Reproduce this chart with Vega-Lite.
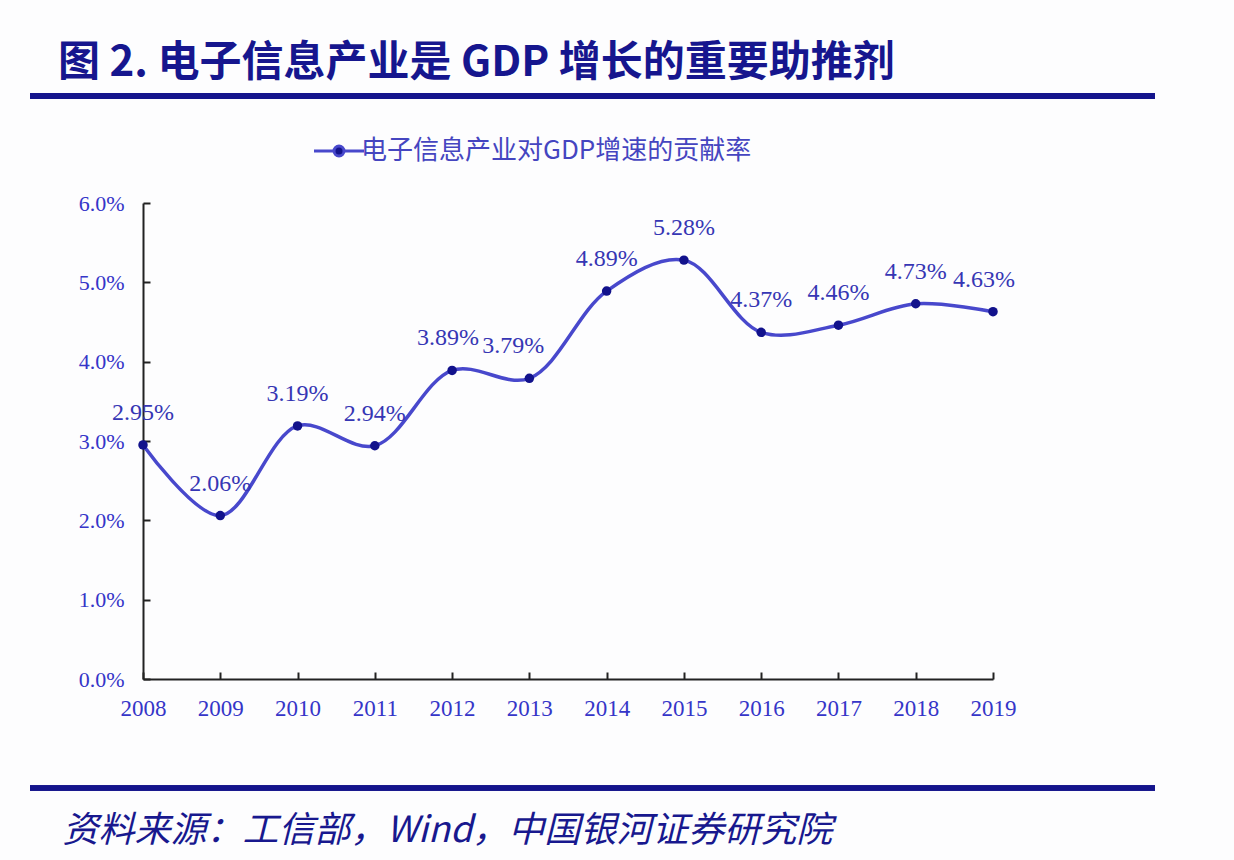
{
  "$schema": "https://vega.github.io/schema/vega-lite/v6.json",
  "width": 850,
  "height": 476,
  "autosize": "none",
  "padding": {"left": 143, "top": 203, "right": 241, "bottom": 181},
  "background": "#fdfdfe",
  "config": {"view": {"stroke": null}},
  "title": {
    "text": "图 2. 电子信息产业是 GDP 增长的重要助推剂",
    "anchor": "start",
    "frame": "group",
    "dx": -85,
    "font": "Noto Sans CJK SC",
    "fontWeight": "bold",
    "fontSize": 42,
    "color": "#16168e",
    "baseline": "middle",
    "offset": 0,
    "dy": 11
  },
  "data": {
    "values": [
      {"year": "2008", "rate": 0.0295, "series": "电子信息产业对GDP增速的贡献率"},
      {"year": "2009", "rate": 0.0206, "series": "电子信息产业对GDP增速的贡献率"},
      {"year": "2010", "rate": 0.0319, "series": "电子信息产业对GDP增速的贡献率"},
      {"year": "2011", "rate": 0.0294, "series": "电子信息产业对GDP增速的贡献率"},
      {"year": "2012", "rate": 0.0389, "series": "电子信息产业对GDP增速的贡献率"},
      {"year": "2013", "rate": 0.0379, "series": "电子信息产业对GDP增速的贡献率"},
      {"year": "2014", "rate": 0.0489, "series": "电子信息产业对GDP增速的贡献率"},
      {"year": "2015", "rate": 0.0528, "series": "电子信息产业对GDP增速的贡献率"},
      {"year": "2016", "rate": 0.0437, "series": "电子信息产业对GDP增速的贡献率"},
      {"year": "2017", "rate": 0.0446, "series": "电子信息产业对GDP增速的贡献率"},
      {"year": "2018", "rate": 0.0473, "series": "电子信息产业对GDP增速的贡献率"},
      {"year": "2019", "rate": 0.0463, "series": "电子信息产业对GDP增速的贡献率"}
    ]
  },
  "encoding": {
    "x": {
      "field": "year",
      "type": "ordinal",
      "scale": {"type": "point", "padding": 0},
      "axis": {
        "title": "资料来源：工信部，Wind，中国银河证券研究院",
        "titleFont": "Noto Sans CJK SC",
        "titleFontStyle": "italic",
        "titleFontWeight": "normal",
        "titleFontSize": 36,
        "titleColor": "#18188e",
        "titleAnchor": "start",
        "titleAlign": "left",
        "titleBaseline": "middle",
        "titleX": -81,
        "titleY": 151,
        "labelAngle": 0,
        "labelFont": "Liberation Serif",
        "labelFontSize": 23,
        "labelColor": "#3535c8",
        "labelPadding": 25,
        "labelBaseline": "top",
        "domainColor": "#222222",
        "domainWidth": 2,
        "tickColor": "#222222",
        "tickWidth": 2,
        "tickSize": -7,
        "grid": false
      }
    },
    "y": {
      "field": "rate",
      "type": "quantitative",
      "scale": {"domain": [0, 0.06], "nice": false},
      "axis": {
        "title": null,
        "values": [0, 0.01, 0.02, 0.03, 0.04, 0.05, 0.06],
        "format": ".1%",
        "labelFont": "Liberation Serif",
        "labelFontSize": 22,
        "labelColor": "#3535c8",
        "labelPadding": 26,
        "domainColor": "#222222",
        "domainWidth": 2,
        "tickColor": "#222222",
        "tickWidth": 2,
        "tickSize": -7,
        "grid": false
      }
    }
  },
  "layer": [
    {
      "mark": {"type": "rule", "color": "#14148c", "strokeWidth": 5},
      "encoding": {
        "x": {"value": -113},
        "x2": {"value": 1012},
        "y": {"value": -107}
      }
    },
    {
      "mark": {"type": "rule", "color": "#14148c", "strokeWidth": 4.5},
      "encoding": {
        "x": {"value": -113},
        "x2": {"value": 1012},
        "y": {"value": 585}
      }
    },
    {
      "mark": {"type": "line", "interpolate": "catmull-rom", "strokeWidth": 3.5},
      "encoding": {
        "color": {
          "field": "series",
          "type": "nominal",
          "scale": {"range": ["#4848cc"]},
          "legend": {
            "title": null,
            "orient": "none",
            "legendX": 182,
            "legendY": -66,
            "symbolType": "M-2,0L-0.4,0M0.4,0L2,0M0.4,0A0.4,0.4 0 1,1 -0.4,0A0.4,0.4 0 1,1 0.4,0Z",
            "symbolSize": 625,
            "symbolStrokeWidth": 3,
            "symbolStrokeColor": "#4848cc",
            "symbolFillColor": "#14148c",
            "labelFont": "Noto Sans CJK SC",
            "labelFontSize": 26,
            "labelColor": "#4545c0",
            "labelOffset": 8,
            "labelLimit": 0
          }
        }
      }
    },
    {
      "mark": {"type": "point", "filled": true, "size": 90, "color": "#12128c", "opacity": 1}
    },
    {
      "transform": [{"filter": "datum.year != '2013' && datum.year != '2019' && datum.year != '2012'"}],
      "mark": {"type": "text", "dy": -32, "font": "Liberation Serif", "fontSize": 24, "color": "#3636b4"},
      "encoding": {"text": {"field": "rate", "type": "quantitative", "format": ".2%"}}
    },
    {
      "transform": [{"filter": "datum.year == '2012'"}],
      "mark": {"type": "text", "dy": -32, "dx": -4, "font": "Liberation Serif", "fontSize": 24, "color": "#3636b4"},
      "encoding": {"text": {"field": "rate", "type": "quantitative", "format": ".2%"}}
    },
    {
      "transform": [{"filter": "datum.year == '2013'"}],
      "mark": {"type": "text", "dy": -32, "dx": -16, "font": "Liberation Serif", "fontSize": 24, "color": "#3636b4"},
      "encoding": {"text": {"field": "rate", "type": "quantitative", "format": ".2%"}}
    },
    {
      "transform": [{"filter": "datum.year == '2019'"}],
      "mark": {"type": "text", "dy": -32, "dx": -9, "font": "Liberation Serif", "fontSize": 24, "color": "#3636b4"},
      "encoding": {"text": {"field": "rate", "type": "quantitative", "format": ".2%"}}
    }
  ]
}
